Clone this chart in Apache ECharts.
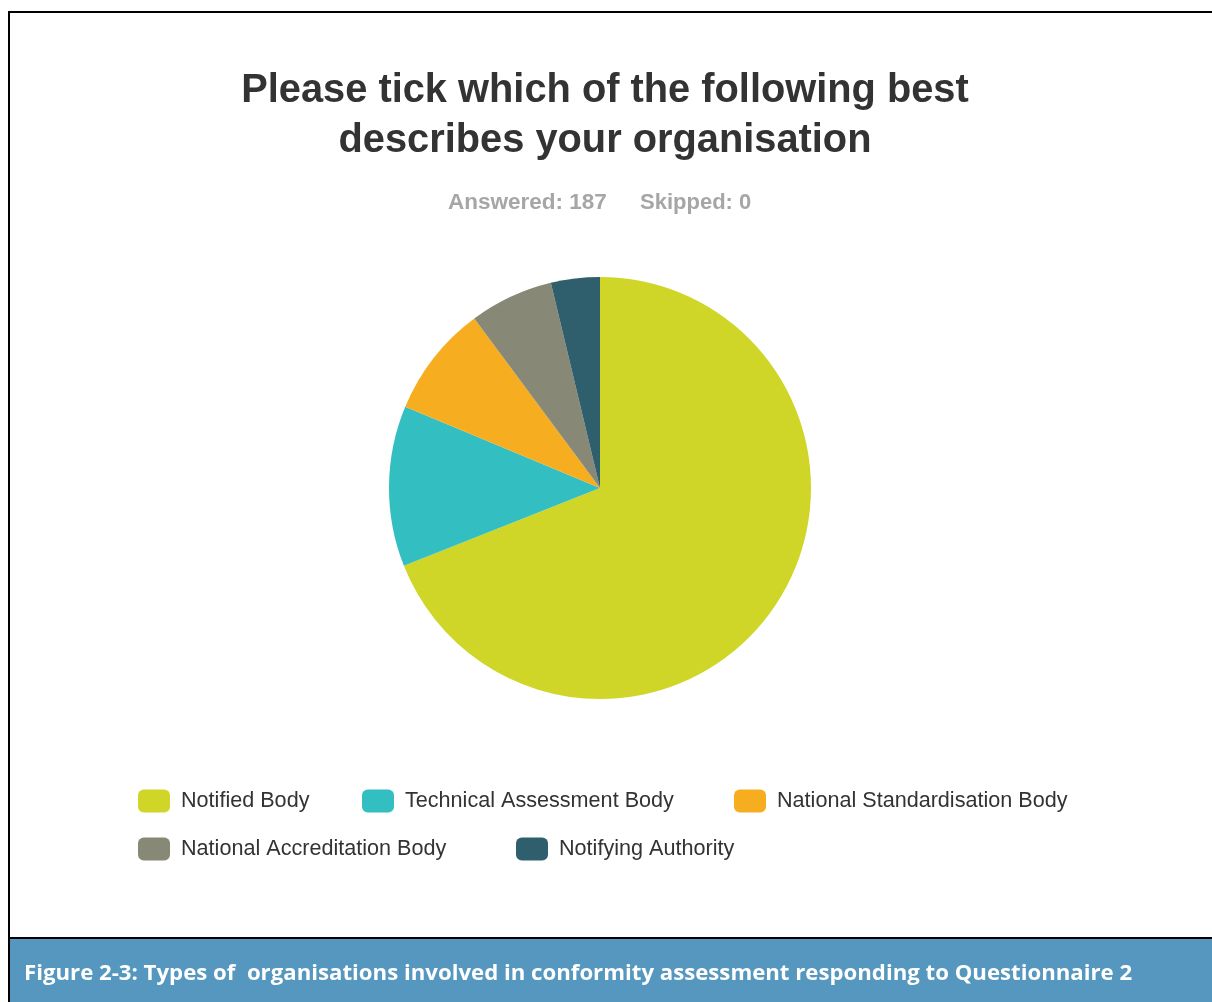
<!DOCTYPE html>
<html>
<head>
<meta charset="utf-8">
<script src="https://cdn.jsdelivr.net/npm/echarts@6/dist/echarts.min.js"></script>
<style>
html,body{margin:0;padding:0;background:#fff;}
#chart{width:1212px;height:1002px;}
</style>
</head>
<body>
<div id="chart"></div>
<script>
const titleText = 'Please tick which of the following best\ndescribes your organisation';
const answeredText = 'Answered: 187';
const skippedText = 'Skipped: 0';
const captionText = 'Figure 2-3: Types of  organisations involved in conformity assessment responding to Questionnaire 2';
const categories = ['Notified Body', 'Technical Assessment Body', 'National Standardisation Body', 'National Accreditation Body', 'Notifying Authority'];
const values = [129, 23, 16, 12, 7];
const colors = ['#cfd628', '#33bec1', '#f6ad1f', '#888877', '#2f5f6d'];

const legendPos = [[138, 789.5], [362, 789.5], [734, 789.5], [138, 837.5], [516, 837.5]];

const chart = echarts.init(document.getElementById('chart'), null, {renderer: 'canvas'});
const legends = categories.map((c, i) => ({
  data: [c],
  left: legendPos[i][0],
  top: legendPos[i][1],
  padding: 0,
  orient: 'horizontal',
  itemWidth: 32,
  itemHeight: 23,
  icon: 'roundRect',
  selectedMode: false,
  textStyle: {fontFamily: 'Liberation Sans', fontSize: 21.6, color: '#333', padding: [0, 0, 0, 6]}
}));

const option = {
  animation: false,
  backgroundColor: '#fff',
  color: colors,
  title: {
    text: titleText,
    left: 600,
    textAlign: 'center',
    top: 61,
    textStyle: {fontFamily: 'Liberation Sans', fontWeight: 'bold', fontSize: 39.8, color: '#333', lineHeight: 50}
  },
  legend: legends,
  series: [{
    type: 'pie',
    center: [600, 488],
    radius: 211,
    startAngle: 90,
    clockwise: true,
    label: {show: false},
    labelLine: {show: false},
    emphasis: {disabled: true},
    itemStyle: {borderWidth: 0},
    data: categories.map((c, i) => ({name: c, value: values[i]}))
  }],
  graphic: [
    {type: 'text', x: 448, y: 203, style: {text: answeredText, font: 'bold 22.5px "Liberation Sans"', fill: '#a6a6a6', textVerticalAlign: 'middle'}},
    {type: 'text', x: 640, y: 203, style: {text: skippedText, font: 'bold 22px "Liberation Sans"', fill: '#a6a6a6', textVerticalAlign: 'middle'}},
    {type: 'rect', shape: {x: 8, y: 938, width: 1204, height: 64}, style: {fill: '#5597bf'}},
    {type: 'line', shape: {x1: 8, y1: 12, x2: 1212, y2: 12}, style: {stroke: '#000', lineWidth: 2}},
    {type: 'line', shape: {x1: 9, y1: 11, x2: 9, y2: 1002}, style: {stroke: '#000', lineWidth: 2}},
    {type: 'line', shape: {x1: 8, y1: 938, x2: 1212, y2: 938}, style: {stroke: '#000', lineWidth: 2}},
    {type: 'text', x: 24, y: 974, style: {text: captionText, font: 'bold 22.2px "Open Sans"', fill: '#fff', textVerticalAlign: 'middle'}}
  ]
};
chart.setOption(option);
</script>
</body>
</html>
